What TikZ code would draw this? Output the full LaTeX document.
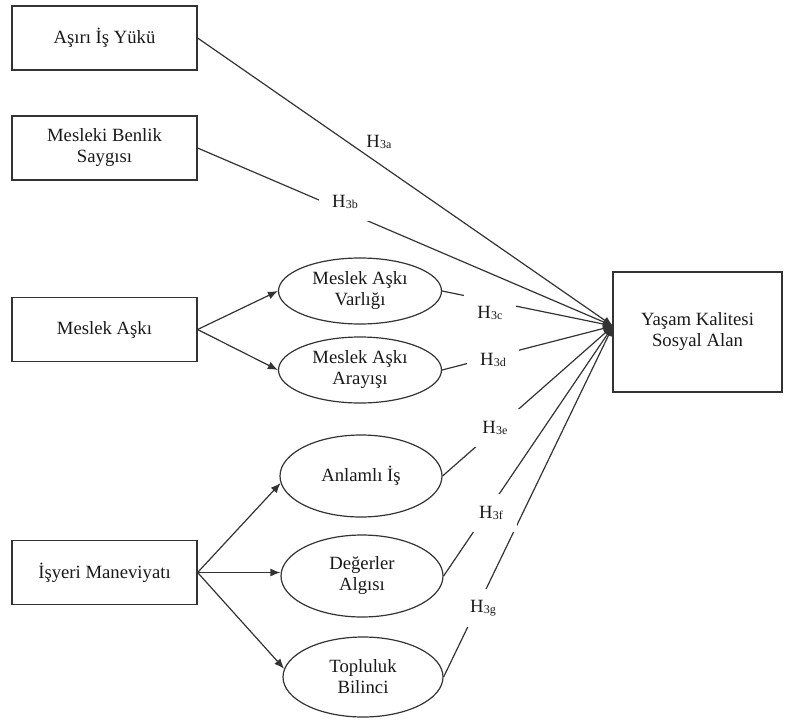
\documentclass[tikz,border=0pt]{standalone}
\usepackage{fontspec}
\setmainfont{Liberation Serif}
\usetikzlibrary{shapes.geometric,arrows.meta}
\newcommand{\hyp}[1]{H\kern0.2pt\raisebox{-1pt}{\fontsize{12}{12}\selectfont #1}}
\begin{document}
\begin{tikzpicture}[x=1pt,y=-1pt,
  every node/.style={font=\fontsize{18.7}{21}\selectfont, text=black!90},
  box/.style={draw=black!80, line width=1.2pt, rectangle, minimum width=185pt, minimum height=64pt, align=center, inner sep=0pt},
  oval/.style={draw=black!80, line width=1.2pt, ellipse, minimum width=163pt, align=center, inner sep=0pt},
  conn/.style={draw=black!80, line width=1.2pt, -{Latex[length=10pt,width=8pt]}},
  hlab/.style={fill=white, minimum width=52pt, minimum height=38pt, inner sep=0pt}
]
\useasboundingbox (0,0) rectangle (787,720);

% boxes
\node[box] (b1) at (104.5,38) {Aşırı İş Yükü};
\node[box] (b2) at (104.5,148) {Mesleki Benlik\\Saygısı};
\node[box] (b3) at (104.5,329.5) {Meslek Aşkı};
\node[box] (b4) at (104.5,572.5) {İşyeri Maneviyatı};
\node[box, minimum width=169pt, minimum height=120pt] (t) at (697.5,332) {Yaşam Kalitesi\\Sosyal Alan};
\coordinate (tip) at (613,326);

% ellipses
\node[oval, minimum height=66pt] (e1) at (360,291) {Meslek Aşkı\\Varlığı};
\node[oval, minimum height=66pt] (e2) at (360,370) {Meslek Aşkı\\Arayışı};
\node[oval, minimum width=162pt, minimum height=82pt] (e3) at (361,476) {Anlamlı İş};
\node[oval, minimum width=162pt, minimum height=82pt] (e4) at (362,576) {Değerler\\Algısı};
\node[oval, minimum width=160pt, minimum height=80pt] (e5) at (363,677) {Topluluk\\Bilinci};

% arrows from predictors to dimensions
\draw[conn] (b3.east) -- (e1.west);
\draw[conn] (b3.east) -- (e2.west);
\draw[conn] (b4.east) -- (e3.185);
\draw[conn] (b4.east) -- (b4.east -| e4.west);
\draw[conn] (b4.east) -- (e5.174);

% paths to outcome
\draw[conn] (b1.east) -- (tip);
\draw[conn] (b2.east) -- (tip);
\draw[conn] (e1.east) -- (tip);
\draw[conn] (e2.east) -- (tip);
\draw[conn] (e3.east) -- (tip);
\draw[conn] (e4.east) -- (tip);
\draw[conn] (e5.east) -- (tip);

% labels
\node (la) at (379,142) {\hyp{3a}};
\node[hlab] (lb) at (345,202) {\hyp{3b}};
\node[hlab] (lc) at (490,313) {\hyp{3c}};
\node[hlab] (ld) at (493,360) {\hyp{3d}};
\node[hlab] (le) at (495,428) {\hyp{3e}};
\node[hlab] (lf) at (491,513) {\hyp{3f}};
\node[hlab] (lg) at (483,608) {\hyp{3g}};
\end{tikzpicture}
\end{document}
